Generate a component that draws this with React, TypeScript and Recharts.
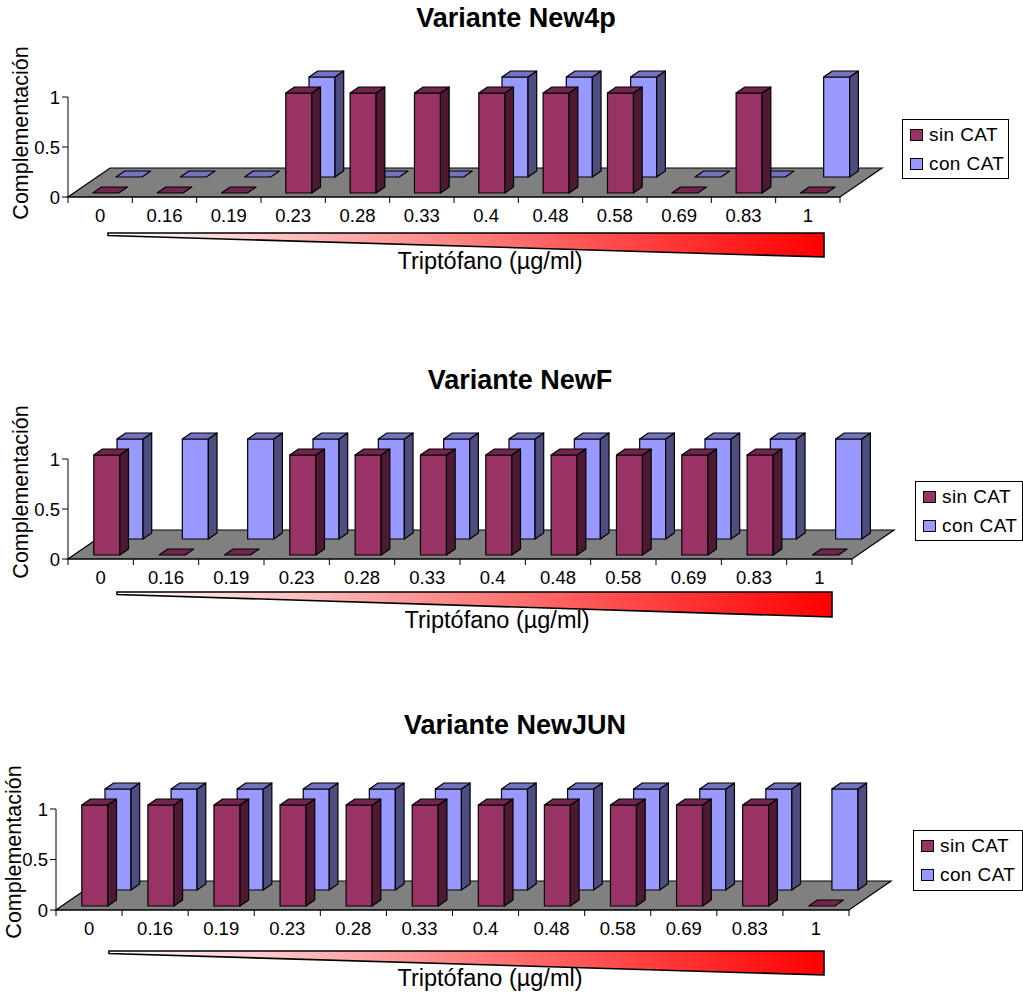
import React from 'react';
import { BarChart, Bar, XAxis, YAxis, Legend, ReferenceArea } from 'recharts';

// Tryptophan concentrations (µg/ml) on the category axis
const concentraciones = ['0', '0.16', '0.19', '0.23', '0.28', '0.33', '0.4', '0.48', '0.58', '0.69', '0.83', '1'];

// Complementation scores, one list per variant and condition
const new4pSinCat = [0, 0, 0, 1, 1, 1, 1, 1, 1, 0, 1, 0];
const new4pConCat = [0, 0, 0, 1, 0, 0, 1, 1, 1, 0, 0, 1];
const newFSinCat = [1, 0, 0, 1, 1, 1, 1, 1, 1, 1, 1, 0];
const newFConCat = [1, 1, 1, 1, 1, 1, 1, 1, 1, 1, 1, 1];
const newJunSinCat = [1, 1, 1, 1, 1, 1, 1, 1, 1, 1, 1, 0];
const newJunConCat = [1, 1, 1, 1, 1, 1, 1, 1, 1, 1, 1, 1];

const yTicks = [0, 0.5, 1];

const variantes = [
  { title: 'Variante New4p', sin: new4pSinCat, con: new4pConCat },
  { title: 'Variante NewF', sin: newFSinCat, con: newFConCat },
  { title: 'Variante NewJUN', sin: newJunSinCat, con: newJunConCat },
];

const FONT = '"Liberation Sans", Arial, Helvetica, sans-serif';

const SIN = { name: 'sin CAT', front: '#993366', top: '#73264D', side: '#4D1933' };
const CON = { name: 'con CAT', front: '#9999FF', top: '#7373BF', side: '#4D4D80' };

// fake 3D: one pixel of depth moves up 1px and right 1.45px
const SLANT = 1.45;
const FLOOR_DEPTH = 29;
const BOX_DEPTH = 6;

// page geometry of each panel
const layouts = [
  { top: 0, height: 300, left: 68, right: 840, y1: 97, y0: 197, titleX: 516, titleY: 18,
    yLabel: [21, 133], legend: [902, 119, 107, 60], wedge: [40, 16, 36, 24], xLabel: [490, 64] },
  { top: 340, height: 310, left: 68, right: 852, y1: 459, y0: 559, titleX: 520, titleY: 380,
    yLabel: [21, 492], legend: [915, 481, 108, 60], wedge: [49, 20, 33, 25], xLabel: [497, 61] },
  { top: 690, height: 303, left: 56, right: 849, y1: 809, y0: 910, titleX: 515, titleY: 725,
    yLabel: [14, 852], legend: [913, 830, 110, 61], wedge: [53, 25, 41, 24], xLabel: [490, 68] },
];

function Box3D(props: any) {
  const { x, y, width, height, depth, colors } = props;
  const bx = x + depth * SLANT;
  const by = y - depth;
  const sx = BOX_DEPTH * SLANT;
  const sy = BOX_DEPTH;
  const stroke = { stroke: '#000', strokeWidth: 1.2, strokeLinejoin: 'round' as const };
  const topFace = `${bx},${by} ${bx + sx},${by - sy} ${bx + width + sx},${by - sy} ${bx + width},${by}`;
  if (!height || height <= 0) {
    return <polygon points={topFace} fill={colors.top} {...stroke} />;
  }
  const sideFace = `${bx + width},${by} ${bx + width + sx},${by - sy} ${bx + width + sx},${by + height - sy} ${bx + width},${by + height}`;
  return (
    <g>
      <rect x={bx} y={by} width={width} height={height} fill={colors.front} {...stroke} />
      <polygon points={sideFace} fill={colors.side} {...stroke} />
      <polygon points={topFace} fill={colors.top} {...stroke} />
    </g>
  );
}

function Floor(props: any) {
  const { x, y, width, height } = props;
  const b = y + height;
  const dx = FLOOR_DEPTH * SLANT;
  const pts = `${x},${b} ${x + width},${b} ${x + width + dx},${b - FLOOR_DEPTH} ${x + dx},${b - FLOOR_DEPTH}`;
  return <polygon points={pts} fill="#808080" stroke="#000" strokeWidth={1.2} />;
}

function BandTick(props: any) {
  const { x, y, payload, index, bw, last } = props;
  const half = bw / 2;
  return (
    <g>
      <line x1={x - half} y1={y} x2={x - half} y2={y + 6} stroke="#000" />
      {index === last && <line x1={x + half} y1={y} x2={x + half} y2={y + 6} stroke="#000" />}
      <text x={x} y={y + 18} textAnchor="middle" dominantBaseline="central" fontSize={18.5} fontFamily={FONT} fill="#000">
        {payload.value}
      </text>
    </g>
  );
}

function Wedge({ viewBox, geo, id, chartTop }: any) {
  const { x, y, width } = viewBox;
  const [wl, wr, wt, wh] = geo.wedge;
  const L = x + wl;
  const R = x + width - wr;
  const T = y + wt;
  return (
    <g>
      <defs>
        <linearGradient id={id} x1="0" y1="0" x2="1" y2="0">
          <stop offset="0%" stopColor="#FFFFFF" />
          <stop offset="100%" stopColor="#FF0000" />
        </linearGradient>
      </defs>
      <polygon points={`${L},${T} ${R},${T} ${R},${T + wh} ${L},${T + 2.5}`} fill={`url(#${id})`} stroke="#000" strokeWidth={1.6} />
      <text x={geo.xLabel[0]} y={geo.y0 - chartTop + geo.xLabel[1]} textAnchor="middle" dominantBaseline="central"
        fontSize={23.5} fontFamily={FONT} fill="#000">
        Triptófano (µg/ml)
      </text>
    </g>
  );
}

function YTitle({ geo, chartTop }: any) {
  const [cx, cy] = geo.yLabel;
  const ty = cy - chartTop;
  return (
    <text x={cx} y={ty} transform={`rotate(-90, ${cx}, ${ty})`} textAnchor="middle" dominantBaseline="central"
      fontSize={21.5} fontFamily={FONT} fill="#000">
      Complementación
    </text>
  );
}

function LegendBox({ w, h }: any) {
  return (
    <div style={{ width: w, height: h, boxSizing: 'border-box', border: '1px solid #000', background: '#fff', fontFamily: FONT, fontSize: 19 }}>
      {[SIN, CON].map((s) => (
        <div key={s.name} style={{ display: 'flex', alignItems: 'center', height: (h - 2) / 2 }}>
          <span style={{ display: 'inline-block', width: 11, height: 10, border: '1px solid #000', background: s.front, marginLeft: 7, marginRight: 6 }} />
          <span style={{ letterSpacing: 0.4 }}>{s.name}</span>
        </div>
      ))}
    </div>
  );
}

function Panel({ variante, geo, idx }: any) {
  const data = concentraciones.map((c, i) => ({ conc: c, sin: variante.sin[i], con: variante.con[i] }));
  const bw = (geo.right - geo.left) / concentraciones.length;
  const xAxisH = 80;
  const margin = {
    top: geo.y1 - geo.top,
    right: 1023 - geo.right,
    bottom: geo.height - (geo.y0 - geo.top) - xAxisH,
    left: 0,
  };
  const [lx, ly, lw, lh] = geo.legend;
  return (
    <div style={{ position: 'absolute', left: 0, top: geo.top, width: 1023, height: geo.height }}>
      <BarChart width={1023} height={geo.height} data={data} margin={margin} barSize={26} barGap={-26}>
        <ReferenceArea y1={0} y2={1} ifOverflow="visible" shape={<Floor />} />
        <XAxis dataKey="conc" interval={0} height={xAxisH} stroke="#000" tickLine={false} tickSize={0} tickMargin={0}
          tick={(p: any) => <BandTick {...p} bw={bw} last={concentraciones.length - 1} />}
          label={{ content: (p: any) => <Wedge {...p} geo={geo} id={`cuna-${idx}`} chartTop={geo.top} /> }} />
        <YAxis domain={[0, 1]} ticks={yTicks} width={geo.left} stroke="#000" tickSize={6} tickMargin={2}
          tick={{ fontSize: 18.5, fill: '#000', fontFamily: FONT }}
          label={{ content: () => <YTitle geo={geo} chartTop={geo.top} /> }} />
        <Legend layout="vertical" align="center" verticalAlign="middle"
          wrapperStyle={{ left: lx, top: ly - geo.top, width: lw, height: lh }}
          content={() => <LegendBox w={lw} h={lh} />} />
        <Bar dataKey="con" name={CON.name} fill={CON.front} isAnimationActive={false}
          shape={(p: any) => <Box3D {...p} depth={20} colors={CON} />} />
        <Bar dataKey="sin" name={SIN.name} fill={SIN.front} isAnimationActive={false}
          shape={(p: any) => <Box3D {...p} depth={4} colors={SIN} />} />
      </BarChart>
      <div style={{ position: 'absolute', left: geo.titleX - 300, width: 600, top: geo.titleY - geo.top - 16, height: 32, lineHeight: '32px',
        textAlign: 'center', fontFamily: FONT, fontWeight: 'bold', fontSize: 27, color: '#000' }}>
        {variante.title}
      </div>
    </div>
  );
}

export default function App() {
  return (
    <div style={{ position: 'absolute', left: 0, top: 0, width: 1023, height: 993, background: '#fff' }}>
      {variantes.map((v, i) => (
        <Panel key={v.title} variante={v} geo={layouts[i]} idx={i} />
      ))}
    </div>
  );
}
